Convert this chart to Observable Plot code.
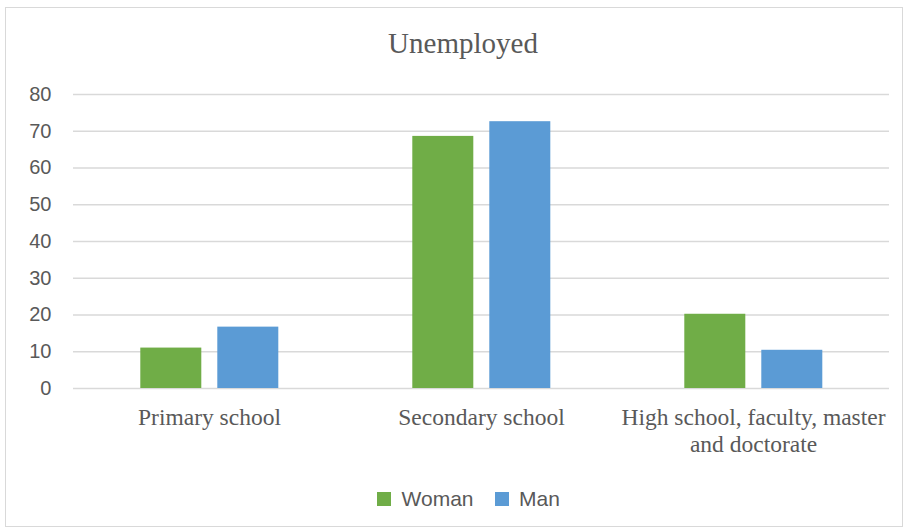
<!DOCTYPE html>
<html>
<head>
<meta charset="utf-8">
<script src="https://cdn.jsdelivr.net/npm/d3@7"></script>
<script src="https://cdn.jsdelivr.net/npm/@observablehq/plot@0.6"></script>
<style>
  html, body { margin: 0; padding: 0; background: #fff; }
  #wrap { position: relative; width: 908px; height: 531px; overflow: hidden; }
  #frame { position: absolute; left: 5px; top: 7px; width: 898px; height: 520px; border: 1px solid #d9d9d9; box-sizing: border-box; }
  #title { position: absolute; left: 0; width: 926px; top: 27px; text-align: center;
           font-family: "Liberation Serif", "Times New Roman", serif; font-size: 29px; color: #595959; }
  #chart { position: absolute; left: 0; top: 0; }
  #legend { position: absolute; left: 0; width: 958px; top: 482px; display: flex; justify-content: center; }
  #legend > * { font-family: "Liberation Sans", Arial, sans-serif !important; font-size: 21px !important; color: #595959 !important; }
</style>
</head>
<body>
<div id="wrap">
  <div id="frame"></div>
  <div id="title">Unemployed</div>
  <div id="chart"></div>
  <div id="legend"></div>
</div>
<script>
const categories = ["Primary school", "Secondary school", "High school, faculty, master and doctorate"];
const categoryLabels = ["Primary school", "Secondary school", "High school, faculty, master\nand doctorate"];
const series = ["Woman", "Man"];
const woman = [11.0, 68.6, 20.2];
const man = [16.7, 72.6, 10.4];
const yTicks = [0, 10, 20, 30, 40, 50, 60, 70, 80];
const colors = ["#70ad47", "#5b9bd5"];

const data = categories.flatMap((c, i) => [
  {category: c, sex: "Woman", value: woman[i]},
  {category: c, sex: "Man", value: man[i]}
]);

const plot = Plot.plot({
  width: 908,
  height: 531,
  marginTop: 94,
  marginBottom: 143,
  marginLeft: 72.7,
  marginRight: 19,
  style: {background: "transparent", overflow: "visible"},
  fx: {domain: categories, padding: 0, label: null, axis: null},
  x: {domain: series, paddingInner: 0.208, paddingOuter: 0.87, axis: null},
  y: {domain: [0, 80], label: null},
  color: {domain: series, range: colors},
  marks: [
    Plot.gridY(yTicks, {stroke: "#d9d9d9", strokeOpacity: 1, strokeWidth: 1.5}),
    Plot.barY(data, {fx: "category", x: "sex", y: "value", fill: "sex"}),
    Plot.axisY(yTicks, {tickSize: 0, tickPadding: 22, label: null, fontSize: 20,
      fontFamily: "Liberation Sans, Arial, sans-serif", fill: "#595959"}),
    Plot.axisFx({anchor: "bottom", tickSize: 0, tickPadding: 18, label: null, fontSize: 23.5,
      lineHeight: 1.12, fontFamily: "Liberation Serif, Times New Roman, serif", fill: "#595959",
      tickFormat: d => categoryLabels[categories.indexOf(d)]})
  ]
});
document.getElementById("chart").appendChild(plot);
document.getElementById("legend").appendChild(plot.legend("color", {swatchSize: 14}));
</script>
</body>
</html>
